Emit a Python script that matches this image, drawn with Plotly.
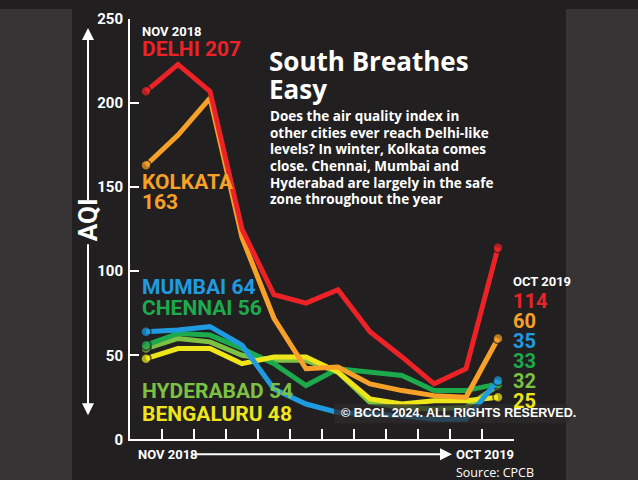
import plotly.graph_objects as go

W = 638
# the photographed page shows css rows -8..490 squeezed into the 480px picture;
# the figure is made a little taller so its bottom strip is drawn too
H = 490

months = ["Nov 2018", "Dec 2018", "Jan 2019", "Feb 2019", "Mar 2019", "Apr 2019",
          "May 2019", "Jun 2019", "Jul 2019", "Aug 2019", "Sep 2019", "Oct 2019"]
delhi = [207, 223, 207, 125, 86, 81, 89, 64, 49, 33, 42, 114]
kolkata = [163, 181, 203, 120, 72, 42, 43, 33, 29, 26, 25, 60]
mumbai = [64, 65, 67, 56, 30, 21, 16, 15, 14, 12, 12, 35]
chennai = [56, 63, 62, 54, 45, 32, 42, 40, 38, 29, 29, 33]
hyderabad = [54, 60, 58, 50, 47, 47, 40, 22, 19, 18, 19, 32]
bengaluru = [48, 54, 54, 45, 49, 49, 40, 24, 21, 23, 23, 25]
y_ticks = [0, 50, 100, 150, 200, 250]

BG = "#221f20"
SIDE = "#363434"
COND = "Roboto, Liberation Sans, sans-serif"
HUM = "Open Sans, Noto Sans, sans-serif"

colors = {
    "Hyderabad": "#7cc143",
    "Chennai": "#1daa4c",
    "Bengaluru": "#eee51b",
    "Kolkata": "#f7a128",
    "Mumbai": "#1f9be2",
    "Delhi": "#ec2227",
}
series = [("Hyderabad", hyderabad), ("Chennai", chennai), ("Bengaluru", bengaluru),
          ("Kolkata", kolkata), ("Mumbai", mumbai), ("Delhi", delhi)]

fig = go.Figure()
for name, vals in series:
    n = len(vals)
    sizes = [10] + [0] * (n - 2) + [10]
    fig.add_trace(go.Scatter(
        x=months, y=vals, mode="lines+markers", name=name,
        line=dict(color=colors[name], width=5),
        marker=dict(size=sizes, color=colors[name], line=dict(color=BG, width=1.5)),
        hoverinfo="skip", showlegend=False, cliponaxis=False,
    ))

TOP_OFF, VSCALE = 8.0, 0.9625

def fy(yt):
    return (yt - TOP_OFF) / VSCALE

def px(x):
    return x / W

def py(yt):
    return 1 - fy(yt) / H

x0, x1, ytop, ybot = 130, 514, 18, 438

fig.update_layout(
    width=W, height=H, margin=dict(l=0, r=0, t=0, b=0),
    paper_bgcolor=BG, plot_bgcolor=BG,
    xaxis=dict(domain=[px(x0), px(x1)], type="category", range=[-0.5, 11.5],
               tickson="boundaries", ticks="inside", ticklen=10, tickwidth=2,
               tickcolor="white", showticklabels=False, showgrid=False,
               showline=True, linecolor="white", linewidth=2, zeroline=False,
               fixedrange=True),
    yaxis=dict(domain=[py(ybot), py(ytop)], range=[0, 250], tickvals=y_ticks,
               ticks="inside", ticklen=9, tickwidth=2, tickcolor="white",
               showgrid=False, zeroline=False, showline=True, linecolor="white",
               linewidth=2, ticklabelstandoff=2,
               tickfont=dict(family=COND, size=15, color="white", weight="bold"),
               fixedrange=True),
)

shapes = [
    dict(type="rect", xref="paper", yref="paper", x0=0, x1=px(72), y0=0, y1=1,
         fillcolor=SIDE, line=dict(width=0), layer="below"),
    dict(type="rect", xref="paper", yref="paper", x0=px(566), x1=1, y0=0, y1=1,
         fillcolor=SIDE, line=dict(width=0), layer="below"),
    dict(type="rect", xref="paper", yref="paper", x0=px(334), x1=px(569),
         y0=py(422), y1=py(403), fillcolor="rgba(45,43,43,0.75)",
         line=dict(width=0), layer="above"),
]
fig.update_layout(shapes=shapes)

ann = []

def txt(x, y, s, size, color="white", family=COND, bold=True, xanchor="left",
        yanchor="middle", **kw):
    ann.append(dict(x=px(x), y=py(y), xref="paper", yref="paper", text=s,
                    showarrow=False, xanchor=xanchor, yanchor=yanchor,
                    borderpad=0,
                    font=dict(family=family, size=size, color=color,
                              weight="bold" if bold else "normal"), **kw))

def arrow(hx, hy, tx, ty):
    ann.append(dict(x=px(hx), y=py(hy), xref="paper", yref="paper",
                    axref="pixel", ayref="pixel", ax=tx - hx, ay=fy(ty) - fy(hy),
                    text="", showarrow=True, arrowhead=2, arrowsize=1.2,
                    arrowwidth=2, arrowcolor="white"))

LBL = 21
txt(141, 30, "NOV 2018", 13)
txt(141, 48, "DELHI 207", LBL, colors["Delhi"])
txt(141, 181, "KOLKATA", LBL, colors["Kolkata"])
txt(141, 201, "163", LBL, colors["Kolkata"])
txt(141, 286, "MUMBAI 64", LBL, colors["Mumbai"])
txt(141, 307, "CHENNAI 56", LBL, colors["Chennai"])
txt(141, 390, "HYDERABAD 54", LBL, colors["Hyderabad"])
txt(141, 413, "BENGALURU 48", LBL, colors["Bengaluru"])

RL = 20
txt(512, 280, "OCT 2019", 13)
txt(512, 300, "114", RL, colors["Delhi"])
txt(512, 320, "60", RL, colors["Kolkata"])
txt(512, 340, "35", RL, colors["Mumbai"])
txt(512, 360, "33", RL, colors["Chennai"])
txt(512, 380, "32", RL, colors["Hyderabad"])
txt(512, 400, "25", RL, colors["Bengaluru"])

txt(268, 60, "South Breathes", 26, family=HUM)
txt(268, 88, "Easy", 26, family=HUM)
desc = ["Does the air quality index in", "other cities ever reach Delhi-like",
        "levels? In winter, Kolkata comes", "close. Chennai, Mumbai and",
        "Hyderabad are largely in the safe", "zone throughout the year"]
for i, line in enumerate(desc):
    txt(269, 115 + i * 16.6, line, 13.5, family=HUM)

txt(88, 219, "AQI", 26, xanchor="center", textangle=-90)
arrow(88, 27, 88, 194)
arrow(88, 414, 88, 248)

txt(137, 453, "NOV 2018", 13)
arrow(452, 453, 194, 453)
txt(455, 453, "OCT 2019", 13)
txt(455, 471, "Source: CPCB", 12.5, family=HUM, bold=False)

txt(340, 412, "© BCCL 2024. ALL RIGHTS RESERVED.", 12.5,
    family="Liberation Sans, Arial, sans-serif")

fig.update_layout(annotations=ann)

grad = ("linear-gradient(to right, {s} 0px, {s} 72px, {b} 72px, {b} 566px, "
        "{s} 566px, {s} 100%)").format(s=SIDE, b=BG)
post = ("var gd=document.getElementById('{plot_id}');"
        "gd.style.position='fixed';gd.style.left='0px';gd.style.top='0px';"
        "document.documentElement.style.margin='0';document.body.style.margin='0';"
        "document.documentElement.style.overflow='hidden';"
        "document.documentElement.style.background='" + grad + "';"
        "document.body.style.background='" + grad + "';")
fig.write_html("out.html", config={"displayModeBar": False}, post_script=post)
